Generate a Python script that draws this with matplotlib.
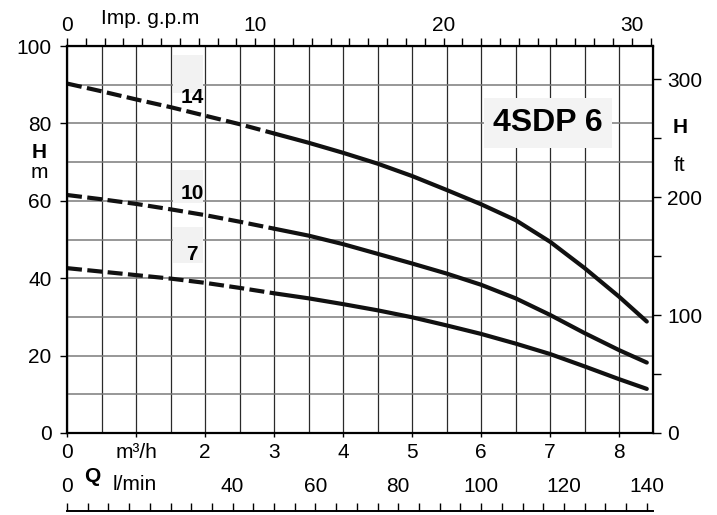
import matplotlib
matplotlib.use("Agg")
import numpy as np
import matplotlib.pyplot as plt
from matplotlib.ticker import MultipleLocator, FixedLocator, NullFormatter
from matplotlib.patches import Rectangle

plt.rcParams["font.family"] = ["Liberation Sans", "DejaVu Sans"]

# pump curves of the 4SDP 6, flow in m3/h, head in m
q = [0, 0.5, 1, 1.5, 2, 2.5, 3, 3.5, 4, 4.5, 5, 5.5, 6, 6.5, 7, 7.5, 8, 8.4]
h_14 = [90.3, 88.3, 86.2, 84.2, 82.0, 79.8, 77.4, 75.0, 72.4, 69.6, 66.4,
        62.8, 59.1, 55.0, 49.4, 42.6, 35.2, 28.8]
h_10 = [61.5, 60.4, 59.2, 57.8, 56.3, 54.6, 52.8, 51.0, 48.8, 46.3, 43.8,
        41.2, 38.3, 34.8, 30.5, 25.8, 21.4, 18.2]
h_7 = [42.6, 41.7, 40.8, 39.9, 38.8, 37.5, 36.1, 34.8, 33.3, 31.7, 29.9,
       27.8, 25.6, 23.1, 20.4, 17.2, 13.9, 11.4]
stages = ["14", "10", "7"]
q_dashed_until = 3.0

m_ticks = [0, 20, 40, 60, 80, 100]
ft_ticks = [0, 100, 200, 300]
gpm_ticks = [0, 10, 20, 30]
q_ticks = [0, 1, 2, 3, 4, 5, 6, 7, 8]
q_labels = ["0", "m³/h", "2", "3", "4", "5", "6", "7", "8"]
lmin_ticks = [0, 40, 60, 80, 100, 120, 140]
title = "4SDP 6"


def m_to_ft(h):
    return np.asarray(h) / 0.3048


def ft_to_m(h):
    return np.asarray(h) * 0.3048


def m3h_to_lmin(x):
    return np.asarray(x) * 1000.0 / 60.0


def lmin_to_m3h(x):
    return np.asarray(x) * 60.0 / 1000.0


def m3h_to_gpm(x):
    return np.asarray(x) * 1000.0 / 60.0 / 4.54609


def gpm_to_m3h(x):
    return np.asarray(x) * 4.54609 * 60.0 / 1000.0


W, H = 717, 515
fig = plt.figure(figsize=(W / 100, H / 100), dpi=100)
ax = fig.add_axes([67 / W, 1 - 433 / H, (653 - 67) / W, (433 - 46) / H])

ax.set_xlim(0, 8.49)
ax.set_ylim(0, 100)

# grid: every 0.5 m3/h and every 10 m
ax.set_axisbelow(True)
ax.xaxis.set_major_locator(FixedLocator(q_ticks))
ax.xaxis.set_major_formatter(plt.FixedFormatter(q_labels))
ax.xaxis.set_minor_locator(MultipleLocator(0.5))
ax.yaxis.set_major_locator(FixedLocator(m_ticks))
ax.yaxis.set_minor_locator(MultipleLocator(10))
ax.grid(which="both", axis="x", color="#2a2a2a", lw=0.9)
ax.grid(which="both", axis="y", color="#7a7a7a", lw=1.1)
ax.tick_params(which="minor", length=0)
ax.tick_params(axis="x", which="major", length=3, width=1, labelsize=15, pad=4)
ax.tick_params(axis="y", which="major", length=5, width=1, labelsize=15, pad=6)
for s in ax.spines.values():
    s.set_linewidth(1.6)

# grey patches behind the stage numbers: (bottom, top, text y) in m
label_boxes = {"14": (87.9, 97.7, 86.6), "10": (59.4, 68.0, 62.0), "7": (43.9, 53.2, 46.0)}
for name in stages:
    y0, y1, yt = label_boxes[name]
    ax.add_patch(Rectangle((1.54, y0), 0.43, y1 - y0, facecolor="#f2f2f2",
                           edgecolor="none", zorder=1))
    ax.text(1.81, yt, name, fontsize=15, fontweight="bold", ha="center",
            va="center", zorder=3)

qa = np.array(q)
for h in (h_14, h_10, h_7):
    ha = np.array(h)
    dash = qa <= q_dashed_until
    solid = qa >= q_dashed_until
    ax.plot(qa[dash], ha[dash], color="#111111", lw=3, dashes=(3.6, 1.3),
            dash_capstyle="butt", zorder=2)
    ax.plot(qa[solid], ha[solid], color="#111111", lw=3,
            solid_capstyle="round", solid_joinstyle="round", zorder=2)

ax.text(6.97, 80.1, title, fontsize=23, fontweight="bold", ha="center",
        va="center", zorder=3,
        bbox=dict(facecolor="#f3f3f3", edgecolor="none", pad=7))

# top axis: Imp. gpm
top = ax.secondary_xaxis("top", functions=(m3h_to_gpm, gpm_to_m3h))
top.xaxis.set_major_locator(FixedLocator(gpm_ticks))
top.xaxis.set_minor_locator(MultipleLocator(1))
top.tick_params(which="both", length=6, width=1, direction="out")
top.tick_params(which="major", labelsize=15, pad=2)

# right axis: ft
right = ax.secondary_yaxis("right", functions=(m_to_ft, ft_to_m))
right.yaxis.set_major_locator(FixedLocator(ft_ticks))
right.yaxis.set_minor_locator(MultipleLocator(50))
right.tick_params(which="both", length=6, width=1, direction="out")
right.tick_params(which="major", labelsize=15, pad=4)

# l/min labels
lmin = ax.secondary_xaxis("bottom", functions=(m3h_to_lmin, lmin_to_m3h))
lmin.xaxis.set_major_locator(FixedLocator(lmin_ticks))
lmin.tick_params(length=0, labelsize=15, pad=32)
for s in lmin.spines.values():
    s.set_visible(False)

# l/min tick ruler at the very bottom
ruler = ax.secondary_xaxis((433 - 511) / (433 - 46), functions=(m3h_to_lmin, lmin_to_m3h))
ruler.xaxis.set_major_locator(MultipleLocator(5))
ruler.xaxis.set_major_formatter(NullFormatter())
ruler.tick_params(direction="in", length=6, width=1)
for s in ruler.spines.values():
    s.set_linewidth(1.4)

fig.text(150 / W, 1 - 18 / H, "Imp. g.p.m", fontsize=15, ha="center", va="center")
fig.text(92 / W, 1 - 477 / H, "Q", fontsize=15, fontweight="bold", ha="center", va="center")
fig.text(135 / W, 1 - 485 / H, "l/min", fontsize=15, ha="center", va="center")
fig.text(39 / W, 1 - 152 / H, "H", fontsize=15, fontweight="bold", ha="center", va="center")
fig.text(39 / W, 1 - 173 / H, "m", fontsize=15, ha="center", va="center")
fig.text(680 / W, 1 - 127 / H, "H", fontsize=15, fontweight="bold", ha="center", va="center")
fig.text(680 / W, 1 - 165 / H, "ft", fontsize=15, ha="center", va="center")

fig.savefig("out.png", dpi=100)
